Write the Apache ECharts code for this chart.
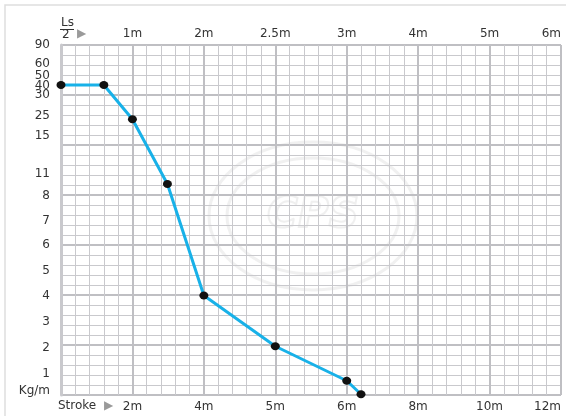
<!DOCTYPE html>
<html>
<head>
<meta charset="utf-8">
<script src="https://cdn.jsdelivr.net/npm/echarts@6/dist/echarts.min.js"></script>
<style>html,body{margin:0;padding:0;background:#fff}#c{width:566px;height:416px}</style>
</head>
<body>
<div id="c"></div>
<script>
// Bottom axis (stroke) labels, one per major grid column line
const strokeLabels = ['', '2m', '4m', '5m', '6m', '8m', '10m', '12m'];
// Top axis (Ls/2) labels, one per major grid column line
const halfLengthLabels = ['', '1m', '2m', '2.5m', '3m', '4m', '5m', '6m'];
// Load (kg/m) labels and their positions on the chart's vertical scale (0..14)
const loadLabels   = ['90', '60', '50', '40', '30', '25', '15', '11', '8', '7', '6', '5', '4', '3', '2', '1', 'Kg/m'];
const loadLabelPos = [14, 13.24, 12.76, 12.36, 12.0, 11.16, 10.36, 8.84, 7.96, 6.96, 6.0, 4.96, 3.96, 2.92, 1.88, 0.84, 0.16];
// Curve points (horizontal in grid columns, vertical on the chart scale)
const pointX = [0, 0.6, 1.0, 1.49, 2.0, 3.0, 4.0, 4.2];
const pointY = [12.4, 12.4, 11.03, 8.44, 3.98, 1.95, 0.57, 0.03];

const FONT = 'DejaVu Sans';
const chart = echarts.init(document.getElementById('c'), null, {renderer: 'canvas'});

const majorLine = {show: true, lineStyle: {color: '#bfbfc3', width: 2}};
const minorLine = {show: true, lineStyle: {color: '#c9c9cd', width: 1}};

chart.setOption({
  animation: false,
  backgroundColor: '#fff',
  grid: {left: 61, right: 5, top: 45, bottom: 21},
  xAxis: [{
    type: 'value', min: 0, max: 7, interval: 1, position: 'bottom',
    axisLine: {show: false}, axisTick: {show: false},
    splitLine: majorLine,
    minorTick: {show: false, splitNumber: 5},
    minorSplitLine: minorLine,
    axisLabel: {
      margin: 6, color: '#333', fontFamily: FONT, fontSize: 12,
      alignMaxLabel: 'right',
      formatter: v => strokeLabels[Math.round(v)] || ''
    }
  }, {
    type: 'value', min: 0, max: 7, interval: 1, position: 'top',
    axisLine: {show: false}, axisTick: {show: false}, splitLine: {show: false},
    axisLabel: {
      margin: 5, color: '#333', fontFamily: FONT, fontSize: 12,
      alignMaxLabel: 'right',
      formatter: v => halfLengthLabels[Math.round(v)] || ''
    }
  }],
  yAxis: [{
    type: 'value', min: 0, max: 14, interval: 2,
    axisLine: {show: true, lineStyle: {color: '#c9c9cd', width: 3}}, axisTick: {show: false},
    splitLine: majorLine,
    minorTick: {show: false, splitNumber: 5},
    minorSplitLine: minorLine,
    axisLabel: {show: false}
  }, {
    type: 'value', min: 0, max: 14, position: 'left',
    axisLine: {show: false}, axisTick: {show: false}, splitLine: {show: false},
    axisLabel: {
      show: true, margin: 11, color: '#333', fontFamily: FONT, fontSize: 12,
      customValues: loadLabelPos,
      formatter: v => {
        let best = 0, d = 1e9;
        loadLabelPos.forEach((p, i) => { const dd = Math.abs(p - v); if (dd < d) { d = dd; best = i; } });
        return loadLabels[best];
      }
    }
  }],
  graphic: [
    {type: 'rect', shape: {x: 5, y: 5, width: 600, height: 450}, style: {fill: 'none', stroke: '#dedede', lineWidth: 1.5}, z: 0},
    {type: 'group', silent: true, z: 1, children: [
      {type: 'ellipse', shape: {cx: 313, cy: 216, rx: 104, ry: 74}, style: {fill: 'none', stroke: 'rgba(228,228,228,0.55)', lineWidth: 3}},
      {type: 'ellipse', shape: {cx: 313, cy: 216, rx: 86, ry: 58}, style: {fill: 'none', stroke: 'rgba(228,228,228,0.55)', lineWidth: 3}},
      {type: 'text', x: 313, y: 216, style: {text: 'CPS', fontFamily: FONT, fontSize: 42, fontStyle: 'italic', fontWeight: 'bold', fill: 'none', stroke: 'rgba(228,228,228,0.6)', lineWidth: 2, align: 'center', verticalAlign: 'middle'}}
    ]},
    {type: 'text', left: 61, top: 17, z: 10, style: {text: 'Ls', fontFamily: FONT, fontSize: 12, fill: '#333'}},
    {type: 'line', z: 10, shape: {x1: 60, y1: 29.5, x2: 74, y2: 29.5}, style: {stroke: '#333', lineWidth: 1}},
    {type: 'text', left: 62, top: 29, z: 10, style: {text: '2', fontFamily: FONT, fontSize: 12, fill: '#333'}},
    {type: 'text', left: 77, top: 28, z: 10, style: {text: '▶', fontFamily: FONT, fontSize: 12, fill: '#9a9a9a'}},
    {type: 'text', left: 58, top: 400, z: 10, style: {text: 'Stroke', fontFamily: FONT, fontSize: 12, fill: '#333'}},
    {type: 'text', left: 104, top: 400, z: 10, style: {text: '▶', fontFamily: FONT, fontSize: 12, fill: '#9a9a9a'}}
  ],
  series: [{
    type: 'line',
    xAxisIndex: 0, yAxisIndex: 0,
    data: pointX.map((x, i) => [x, pointY[i]]),
    lineStyle: {color: '#18b1e8', width: 3},
    symbol: 'circle', symbolSize: [9, 8],
    itemStyle: {color: '#111'},
    z: 5, clip: false
  }]
});
</script>
</body>
</html>
